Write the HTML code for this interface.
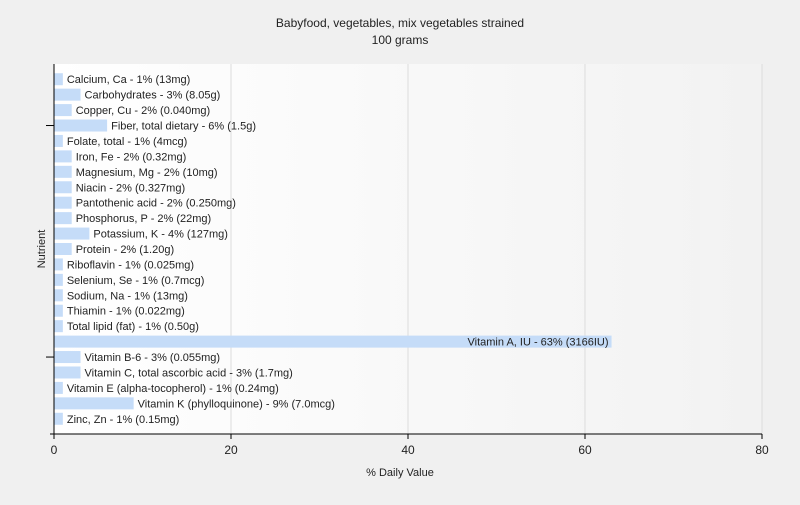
<!DOCTYPE html>
<html><head><meta charset="utf-8"><style>
body{margin:0;background:#f0f0f0;font-family:"Liberation Sans",sans-serif;}
svg text{font-family:"Liberation Sans",sans-serif;}
</style></head><body>
<svg width="800" height="500" id="c">
<defs><linearGradient id="bg" x1="0" x2="1" y1="0" y2="0"><stop offset="0" stop-color="#ffffff"/><stop offset="1" stop-color="#f2f2f2"/></linearGradient></defs>
<text x="400" y="27" text-anchor="middle" font-size="12" fill="#222">Babyfood, vegetables, mix vegetables strained</text>
<text x="400" y="44" text-anchor="middle" font-size="12" fill="#222">100 grams</text>
<rect x="54" y="64" width="708" height="370" fill="url(#bg)"/>
<g id="grid"></g><g id="bars"></g><g id="axes"></g>
<text x="400" y="476" text-anchor="middle" font-size="11" fill="#222">% Daily Value</text>
<text x="45" y="249" text-anchor="middle" font-size="11" fill="#222" transform="rotate(-90 45 249)">Nutrient</text>
</svg>
<script>
const categories=["Calcium, Ca","Carbohydrates","Copper, Cu","Fiber, total dietary","Folate, total","Iron, Fe","Magnesium, Mg","Niacin","Pantothenic acid","Phosphorus, P","Potassium, K","Protein","Riboflavin","Selenium, Se","Sodium, Na","Thiamin","Total lipid (fat)","Vitamin A, IU","Vitamin B-6","Vitamin C, total ascorbic acid","Vitamin E (alpha-tocopherol)","Vitamin K (phylloquinone)","Zinc, Zn"];
const values=[1,3,2,6,1,2,2,2,2,2,4,2,1,1,1,1,1,63,3,3,1,9,1];
const amounts=["13mg","8.05g","0.040mg","1.5g","4mcg","0.32mg","10mg","0.327mg","0.250mg","22mg","127mg","1.20g","0.025mg","0.7mcg","13mg","0.022mg","0.50g","3166IU","0.055mg","1.7mg","0.24mg","7.0mcg","0.15mg"];
const xTicks=[0,20,40,60,80];
const X0=54,X1=762,Y0=64,Y1=434,XMAX=80;
const B0=71.5,B1=426.5;
const ns="http://www.w3.org/2000/svg";
const x=v=>X0+v/XMAX*(X1-X0);
const band=(B1-B0)/categories.length;
const y=i=>B0+i*band;
function mk(t,a,p){const e=document.createElementNS(ns,t);for(const k in a)e.setAttribute(k,a[k]);p.appendChild(e);return e;}
const grid=document.getElementById('grid'),bars=document.getElementById('bars'),axes=document.getElementById('axes');
xTicks.forEach(t=>{
  if(t>0){const g=mk('line',{x1:x(t),x2:x(t),y1:Y0,y2:Y1,stroke:'#dcdcdc'},grid);
  
  }
  const tk=mk('line',{x1:x(t),x2:x(t),y1:Y1,y2:Y1+5,stroke:'#000'},axes);
  
  
  const l=mk('text',{x:x(t),y:Y1+20,'text-anchor':'middle','font-size':12,fill:'#222'},axes);
  l.textContent=t;
  
  
});
categories.forEach((c,i)=>{
  const bh=12, by=y(i)+(band-bh)/2, w=x(values[i])-X0;
  const r=mk('rect',{x:X0,y:by,width:w,height:bh,fill:'#c5dcf8'},bars);
  
  
  const label=c+' - '+values[i]+'% ('+amounts[i]+')';
  const inside=values[i]>40;
  const t=mk('text',{x:inside?x(values[i])-3:x(values[i])+4,y:y(i)+band/2+4,'font-size':11,fill:'#222','text-anchor':inside?'end':'start'},bars);
  t.textContent=label;
  
  
  if(i%15===3){const k=mk('line',{x1:X0-8,x2:X0,y1:y(i)+band/2,y2:y(i)+band/2,stroke:'#000'},axes);
  
  }
});
const ya=mk('line',{x1:X0,x2:X0,y1:Y0,y2:Y1,stroke:'#000'},axes);


const xa=mk('line',{x1:X0-4,x2:X1,y1:Y1,y2:Y1,stroke:'#000'},axes);


</script>
</body></html>
